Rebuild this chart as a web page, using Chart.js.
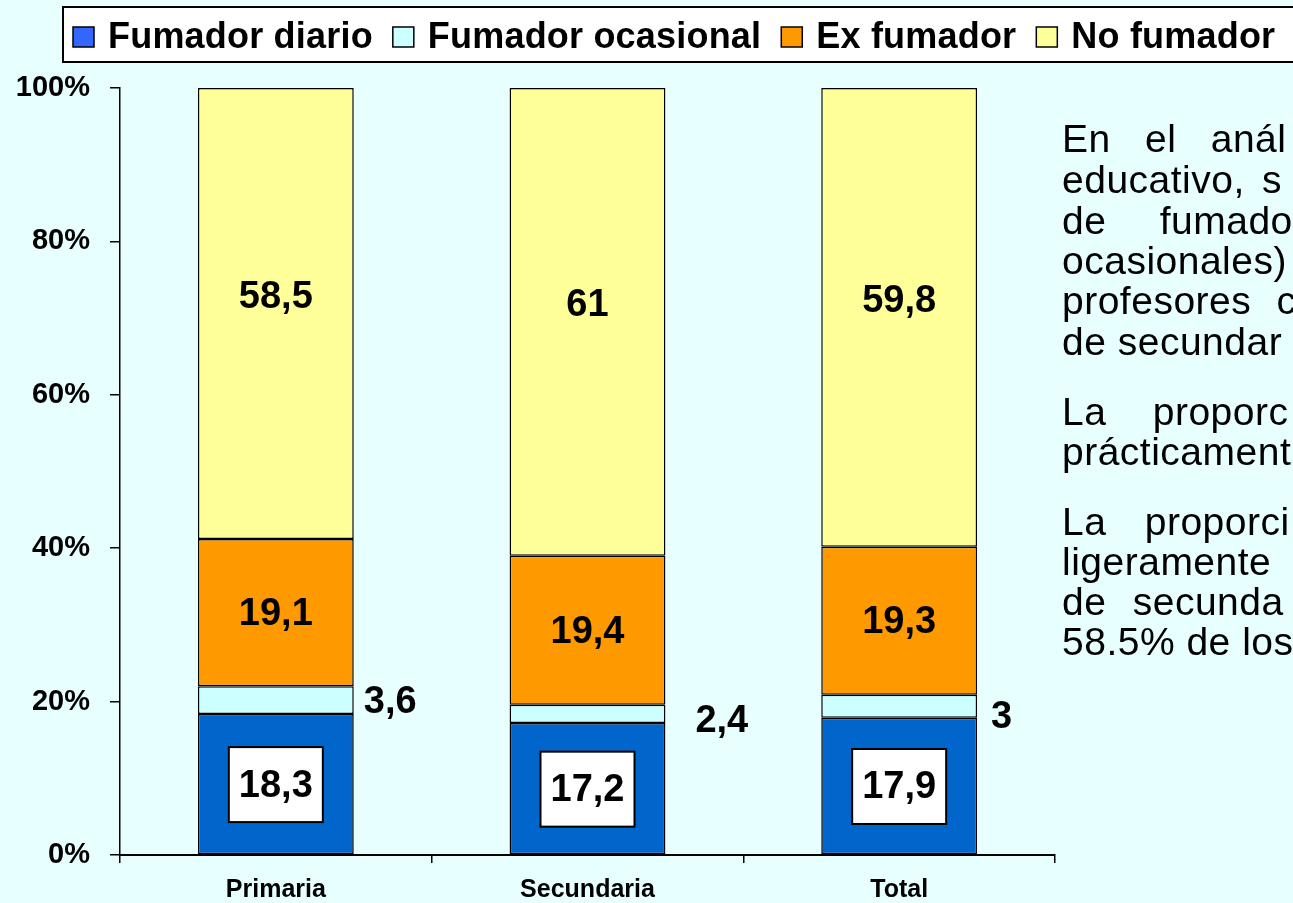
<!DOCTYPE html>
<html lang="es">
<head>
<meta charset="utf-8">
<title>Fumadores por nivel educativo</title>
<script src="https://cdn.jsdelivr.net/npm/chart.js@4/dist/chart.umd.min.js"></script>
<style>
  html, body {
    margin: 0;
    padding: 0;
    width: 1293px;
    height: 903px;
    overflow: hidden;
    background: #e8ffff;
    font-family: "Liberation Sans", Arial, sans-serif;
  }
  #wrap {
    position: absolute;
    left: 0;
    top: 0;
    width: 1293px;
    height: 903px;
  }
  .nota {
    position: absolute;
    left: 1062px;
    white-space: nowrap;
    font-size: 39px;
    line-height: 40px;
    letter-spacing: 0.5px;
    color: #000;
  }
</style>
</head>
<body>
<div id="wrap"><canvas id="chart"></canvas></div>

<!-- texto explicativo (cortado por el borde derecho como en la diapositiva) -->
<div class="nota" style="top:119px;word-spacing:23px">En el anál</div>
<div class="nota" style="top:160px;word-spacing:6px">educativo, s</div>
<div class="nota" style="top:201px;word-spacing:42px">de fumado</div>
<div class="nota" style="top:241px">ocasionales)</div>
<div class="nota" style="top:281px;word-spacing:14px">profesores c</div>
<div class="nota" style="top:322px">de secundar</div>
<div class="nota" style="top:392px;word-spacing:35px">La proporc</div>
<div class="nota" style="top:432px">prácticament</div>
<div class="nota" style="top:502px;word-spacing:27px">La proporci</div>
<div class="nota" style="top:542px">ligeramente</div>
<div class="nota" style="top:582px;word-spacing:15px">de secunda</div>
<div class="nota" style="top:622px">58.5% de los</div>

<script>
// datos (porcentaje de profesores por nivel educativo)
const categories = ['Primaria', 'Secundaria', 'Total'];
const fumadorDiario = [18.3, 17.2, 17.9];
const fumadorOcasional = [3.6, 2.4, 3];
const exFumador = [19.1, 19.4, 19.3];
const noFumador = [58.5, 61, 59.8];
const yTicks = [0, 20, 40, 60, 80, 100];

const FONT = '"Liberation Sans", Arial, sans-serif';

// barras al 100%: cada categoria se normaliza a su total
const totals = categories.map(function (c, i) {
  return fumadorDiario[i] + fumadorOcasional[i] + exFumador[i] + noFumador[i];
});
function share(values) {
  return values.map(function (v, i) { return (v / totals[i]) * 100; });
}
function fmt(v) {
  return String(v).replace('.', ',');
}

// leyenda dibujada dentro de un recuadro blanco
const boxLegend = {
  id: 'boxLegend',
  afterDraw(chart) {
    const ctx = chart.ctx;
    ctx.save();
    ctx.fillStyle = '#ffffff';
    ctx.strokeStyle = '#000000';
    ctx.lineWidth = 2;
    ctx.fillRect(63, 7, 1260, 55);
    ctx.strokeRect(63, 7, 1260, 55);

    ctx.font = 'bold 36px ' + FONT;
    if ('letterSpacing' in ctx) ctx.letterSpacing = '0.2px';
    ctx.textBaseline = 'middle';
    ctx.textAlign = 'left';
    let x = 73;
    chart.data.datasets.forEach(function (ds) {
      ctx.fillStyle = ds.legendColor || ds.backgroundColor;
      ctx.fillRect(x, 27, 21, 20);
      ctx.lineWidth = 1.5;
      ctx.strokeStyle = '#000000';
      ctx.strokeRect(x, 27, 21, 20);
      ctx.fillStyle = '#000000';
      ctx.fillText(ds.label, x + 35, 38);
      x += 35 + ctx.measureText(ds.label).width + 20;
    });
    ctx.restore();
  },
};

// etiquetas de valores
const valueLabels = {
  id: 'valueLabels',
  afterDatasetsDraw(chart, args, opts) {
    const ctx = chart.ctx;
    ctx.save();
    ctx.font = 'bold 38px ' + FONT;
    ctx.textBaseline = 'middle';
    chart.data.datasets.forEach(function (ds, di) {
      const meta = chart.getDatasetMeta(di);
      meta.data.forEach(function (bar, i) {
        const text = fmt(ds.rawValues[i]);
        const props = bar.getProps(['x', 'y', 'base', 'width'], true);
        const cy = (props.y + props.base) / 2;
        if (ds.labelMode === 'box') {
          ctx.fillStyle = '#ffffff';
          ctx.strokeStyle = '#000000';
          ctx.lineWidth = 2;
          ctx.fillRect(props.x - 47, cy - 37, 94, 75);
          ctx.strokeRect(props.x - 47, cy - 37, 94, 75);
          ctx.fillStyle = '#000000';
          ctx.textAlign = 'center';
          ctx.fillText(text, props.x, cy + 2);
        } else if (ds.labelMode === 'right') {
          ctx.fillStyle = '#000000';
          ctx.textAlign = 'left';
          ctx.fillText(text, props.x + props.width / 2 + opts.sideDx[i], cy + opts.sideDy[i] + 2);
        } else {
          ctx.fillStyle = '#000000';
          ctx.textAlign = 'center';
          ctx.fillText(text, props.x, cy + (ds.labelDy || 0) + 2);
        }
      });
    });
    ctx.restore();
  },
};

const ctx = document.getElementById('chart').getContext('2d');

new Chart(ctx, {
  type: 'bar',
  data: {
    labels: categories,
    datasets: [
      {
        label: 'Fumador diario',
        data: share(fumadorDiario),
        rawValues: fumadorDiario,
        backgroundColor: '#0066cc',
        legendColor: '#3366ff',
        labelMode: 'box',
      },
      {
        label: 'Fumador ocasional',
        data: share(fumadorOcasional),
        rawValues: fumadorOcasional,
        backgroundColor: '#ccffff',
        labelMode: 'right',
      },
      {
        label: 'Ex fumador',
        data: share(exFumador),
        rawValues: exFumador,
        backgroundColor: '#ff9900',
        labelMode: 'center',
      },
      {
        label: 'No fumador',
        data: share(noFumador),
        rawValues: noFumador,
        backgroundColor: '#ffff99',
        labelMode: 'center',
        labelDy: -18,
      },
    ],
  },
  options: {
    responsive: true,
    maintainAspectRatio: false,
    animation: false,
    layout: {
      padding: { top: 88, right: 238, bottom: 0, left: 0 },
    },
    datasets: {
      bar: {
        borderColor: '#000000',
        borderWidth: 1.5,
        borderSkipped: false,
        categoryPercentage: 1,
        barPercentage: 0.5,
      },
    },
    plugins: {
      legend: { display: false },
      tooltip: { enabled: false },
      valueLabels: {
        sideDx: [10, 30, 14],
        sideDy: [0, 6, 9],
      },
    },
    scales: {
      x: {
        stacked: true,
        grid: {
          offset: true,
          drawOnChartArea: false,
          drawTicks: true,
          tickLength: 8,
          color: '#000000',
          lineWidth: 1.5,
        },
        border: { display: true, color: '#000000', width: 2 },
        ticks: {
          color: '#000000',
          font: { family: FONT, size: 25, weight: 'bold' },
          padding: 12,
        },
        afterFit(scale) {
          scale.height = 48;
        },
      },
      y: {
        stacked: true,
        min: 0,
        max: 100,
        afterBuildTicks(scale) {
          scale.ticks = yTicks.map(function (v) { return { value: v }; });
        },
        grid: {
          drawOnChartArea: false,
          drawTicks: true,
          tickLength: 10,
          color: '#000000',
          lineWidth: 1.5,
        },
        border: { display: true, color: '#000000', width: 1.5 },
        ticks: {
          color: '#000000',
          font: { family: FONT, size: 29, weight: 'bold' },
          padding: 20,
          callback: function (v) { return v + '%'; },
        },
        afterFit(scale) {
          scale.width = 120;
        },
      },
    },
  },
  plugins: [valueLabels, boxLegend],
});
</script>
</body>
</html>
